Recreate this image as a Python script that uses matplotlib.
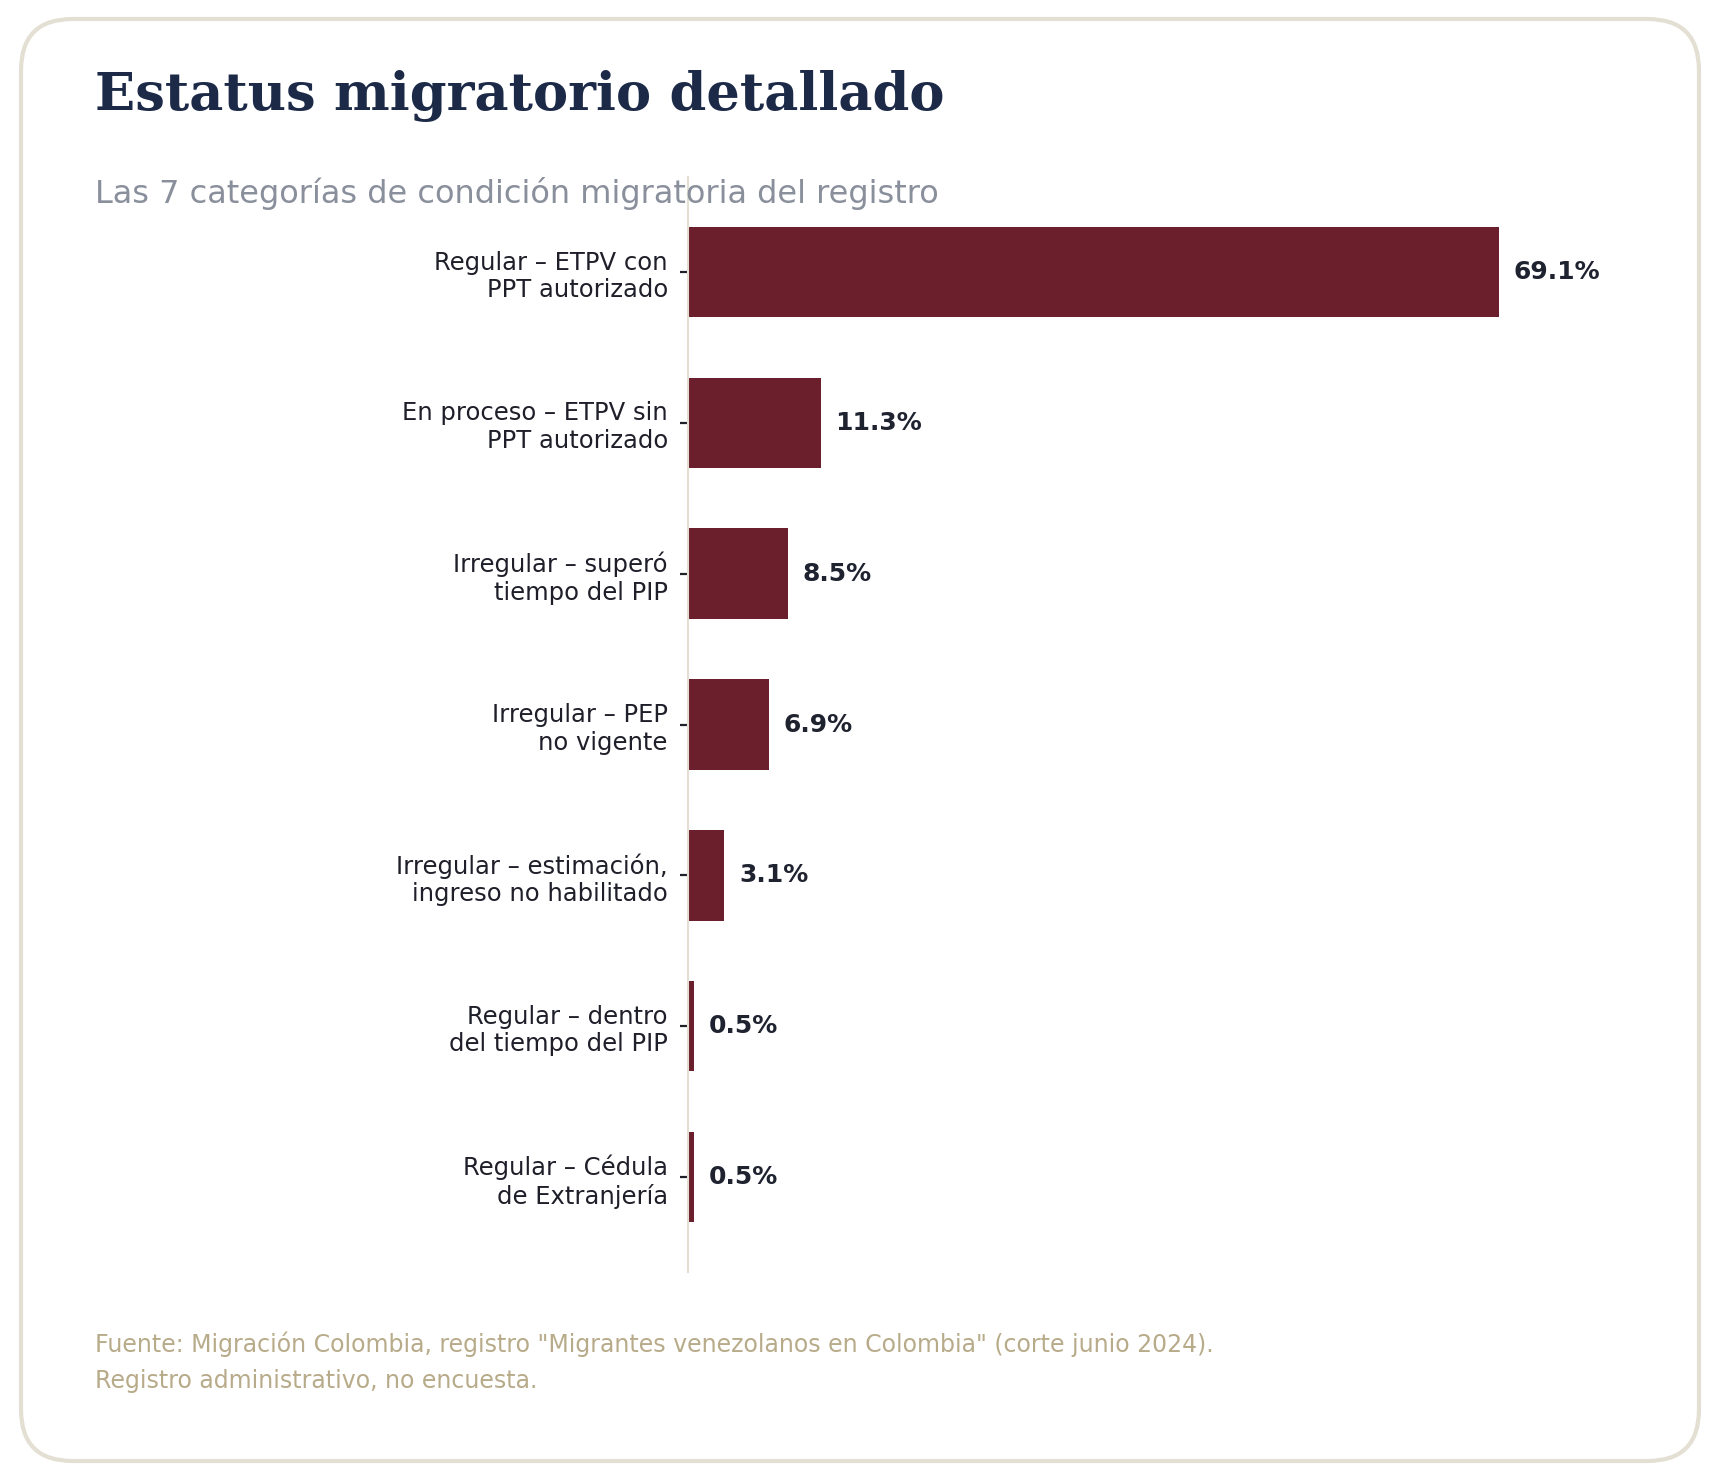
import matplotlib.pyplot as plt
from matplotlib.patches import FancyBboxPatch

categorias = [
    "Regular – ETPV con\nPPT autorizado",
    "En proceso – ETPV sin\nPPT autorizado",
    "Irregular – superó\ntiempo del PIP",
    "Irregular – PEP\nno vigente",
    "Irregular – estimación,\ningreso no habilitado",
    "Regular – dentro\ndel tiempo del PIP",
    "Regular – Cédula\nde Extranjería",
]
porcentajes = [69.1, 11.3, 8.5, 6.9, 3.1, 0.5, 0.5]

color_barra = "#6b1e2c"
color_texto = "#1f2330"

fig = plt.figure(figsize=(17.2, 14.8), dpi=100)
fig.patch.set_facecolor("white")

# marco redondeado
marco = FancyBboxPatch((21 / 1720, 19 / 1480), 1678 / 1720, 1442 / 1480,
                       boxstyle="round,pad=0,rounding_size=0.03",
                       transform=fig.transFigure, facecolor="none",
                       edgecolor="#e3dfd3", linewidth=3, zorder=-1,
                       mutation_aspect=1720 / 1480)
fig.patches.append(marco)

ax = fig.add_axes([688 / 1720, 208 / 1480, 940 / 1720, 1095 / 1480])
ax.set_facecolor("none")

pos = list(range(len(categorias)))
ax.barh(pos, porcentajes, height=0.6, color=color_barra)
ax.invert_yaxis()
ax.set_xlim(0, 69.1 * 940 / 811)

for y, v in zip(pos, porcentajes):
    ax.text(v + 1.25, y, f"{v:.1f}%", va="center", ha="left",
            fontsize=18, fontweight="bold", color=color_texto)

ax.set_yticks(pos)
ax.set_yticklabels(categorias, fontsize=17.5, color="#1f1f2a")
ax.tick_params(axis="y", length=6, width=1.6, pad=8.5, color="#1f1f2a")
ax.set_xticks([])
for s in ["top", "right", "bottom"]:
    ax.spines[s].set_visible(False)
ax.spines["left"].set_color("#e3dfd3")
ax.spines["left"].set_linewidth(1.5)

fig.text(95 / 1720, 1 - 110 / 1480, "Estatus migratorio detallado",
         fontsize=38, fontweight="bold", family="DejaVu Serif",
         color="#1c2a48", va="baseline")
fig.text(95 / 1720, 1 - 203 / 1480,
         "Las 7 categorías de condición migratoria del registro",
         fontsize=23, color="#8a8f9c", va="baseline")
fig.text(95 / 1720, 1 - 1352 / 1480,
         'Fuente: Migración Colombia, registro "Migrantes venezolanos en Colombia" (corte junio 2024).',
         fontsize=17, color="#b8ab8a", va="baseline")
fig.text(95 / 1720, 1 - 1388 / 1480,
         "Registro administrativo, no encuesta.",
         fontsize=17, color="#b8ab8a", va="baseline")

fig.savefig("out.png", dpi=100, facecolor="white")
